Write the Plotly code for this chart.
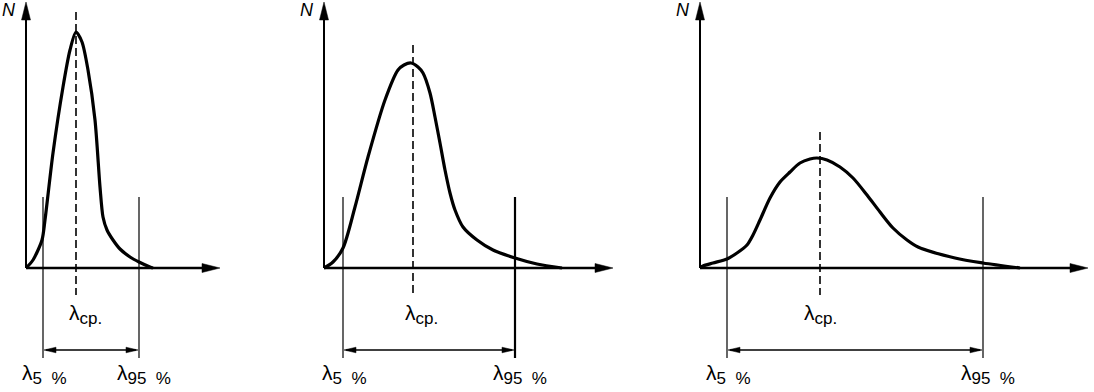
import plotly.graph_objects as go

# ---------------- data (arbitrary units, origin of each panel = 0,0) ----------------
p1_x = [0, 7, 16, 19, 27, 37, 44, 50, 56, 62, 69, 74, 77, 81, 87, 94, 104, 113, 124, 127]
p1_n = [0, 8, 28, 48, 115, 181, 218, 236, 226, 198, 148, 81, 51, 38, 28, 19, 11, 6, 1, 0]
p1_mean, p1_l5, p1_l95 = 50, 17, 113

p2_x = [0, 9, 19, 31, 44, 61, 74, 80, 87, 94, 99, 106, 111, 116, 121, 126, 131, 139, 153, 169, 191, 213, 238]
p2_n = [0, 6, 20, 61, 111, 168, 198, 203, 205, 201, 195, 175, 151, 125, 98, 75, 58, 41, 28, 18, 10, 4, 0]
p2_mean, p2_l5, p2_l95 = 89, 19, 191

p3_x = [0, 3, 13, 27, 37, 47, 53, 60, 70, 80, 90, 100, 110, 117, 127, 140, 153, 167, 180, 193,
        207, 218, 255, 283, 320]
p3_n = [0, 2, 5, 9, 15, 23, 33, 48, 70, 86, 96, 105, 109, 110, 108, 101, 90, 73, 56, 40,
        28, 21, 10, 5, 0]
p3_mean, p3_l5, p3_l95 = 120, 27, 283

axis_len_x = [194, 289, 388]
axis_len_y = 266
dash_top = [256, 223, 136]

y_label = "N"
mean_label = "λ<sub><span style='font-size:17px'>ср.</span></sub>"
l5_label = "λ<sub><span style='font-size:17px'>5\u00a0\u00a0%</span></sub>"
l95_label = "λ<sub><span style='font-size:17px'>95\u00a0\u00a0%</span></sub>"

# ---------------- layout / styling ----------------
W, H = 1094, 392
BASE_PX = 268
origins_px = [26, 324, 700]
mean_lab_off = [-9, -10, -18]
FONT = "Liberation Sans, Arial, sans-serif"
BLACK = "#000000"

panels = [
    (p1_x, p1_n, p1_mean, p1_l5, p1_l95),
    (p2_x, p2_n, p2_mean, p2_l5, p2_l95),
    (p3_x, p3_n, p3_mean, p3_l5, p3_l95),
]
l95_width = [1.2, 2.2, 1.2]
smooth = [0.75, 0.8, 0.8]

fig = go.Figure()
annotations = []

VL_TOP, VL_BOT = 71, -90     # extent of the λ5/λ95 lines
ARR_Y = -82                  # double arrow level
DASH_BOT = -27


def tri(tip_x, tip_y, dx, dy, length, half):
    # triangle pointing in direction (dx,dy)
    bx, by = tip_x - dx * length, tip_y - dy * length
    px, py = -dy, dx
    return ([tip_x, bx + px * half, bx - px * half, tip_x],
            [tip_y, by + py * half, by - py * half, tip_y])


for i, (xs, ns, mean, l5, l95) in enumerate(panels):
    xa = "x" if i == 0 else f"x{i + 1}"
    common = dict(xaxis=xa, yaxis="y", hoverinfo="skip", showlegend=False)
    lx = axis_len_x[i]

    # axes
    fig.add_trace(go.Scatter(x=[0, 0], y=[0, axis_len_y - 12], mode="lines",
                             line=dict(color=BLACK, width=2), **common))
    fig.add_trace(go.Scatter(x=[0, lx - 12], y=[0, 0], mode="lines",
                             line=dict(color=BLACK, width=2.4), **common))
    tx, ty = tri(0, axis_len_y, 0, 1, 18, 4.5)
    fig.add_trace(go.Scatter(x=tx, y=ty, mode="lines", fill="toself", fillcolor=BLACK,
                             line=dict(color=BLACK, width=0.5), **common))
    tx, ty = tri(lx, 0, 1, 0, 18, 4.5)
    fig.add_trace(go.Scatter(x=tx, y=ty, mode="lines", fill="toself", fillcolor=BLACK,
                             line=dict(color=BLACK, width=0.5), **common))

    # λ5 / λ95 lines
    fig.add_trace(go.Scatter(x=[l5, l5], y=[VL_TOP, VL_BOT], mode="lines",
                             line=dict(color=BLACK, width=1.2), **common))
    fig.add_trace(go.Scatter(x=[l95, l95], y=[VL_TOP, VL_BOT], mode="lines",
                             line=dict(color=BLACK, width=l95_width[i]), **common))

    # double arrow
    fig.add_trace(go.Scatter(x=[l5 + 3, l95 - 3], y=[ARR_Y, ARR_Y], mode="lines",
                             line=dict(color=BLACK, width=1.3), **common))
    for tip, d in ((l5 + 1, -1), (l95 - 1, 1)):
        tx, ty = tri(tip, ARR_Y, d, 0, 12, 2.8)
        fig.add_trace(go.Scatter(x=tx, y=ty, mode="lines", fill="toself", fillcolor=BLACK,
                                 line=dict(color=BLACK, width=0.5), **common))

    # dashed mean line
    fig.add_trace(go.Scatter(x=[mean, mean], y=[dash_top[i], DASH_BOT], mode="lines",
                             line=dict(color=BLACK, width=1.6, dash="8px,4px"), **common))

    # distribution curve
    fig.add_trace(go.Scatter(x=xs, y=ns, mode="lines",
                             line=dict(color=BLACK, width=3.2, shape="spline", smoothing=smooth[i]),
                             **common))

    # labels
    annotations.append(dict(x=-8, y=axis_len_y - 8, xref=xa, yref="y", text=y_label,
                            showarrow=False, xanchor="right", yanchor="middle",
                            font=dict(family=FONT, size=18, color=BLACK, style="italic")))
    annotations.append(dict(x=mean + mean_lab_off[i], y=-46, xref=xa, yref="y", text=mean_label,
                            showarrow=False, xanchor="left", yanchor="middle",
                            font=dict(family=FONT, size=21, color=BLACK)))
    annotations.append(dict(x=l5 - 23, y=-106, xref=xa, yref="y", text=l5_label,
                            showarrow=False, xanchor="left", yanchor="middle",
                            font=dict(family=FONT, size=21, color=BLACK)))
    annotations.append(dict(x=l95 - 24, y=-106, xref=xa, yref="y", text=l95_label,
                            showarrow=False, xanchor="left", yanchor="middle",
                            font=dict(family=FONT, size=21, color=BLACK)))

layout_axes = {}
for i, ox in enumerate(origins_px):
    key = "xaxis" if i == 0 else f"xaxis{i + 1}"
    ax = dict(range=[-ox, W - ox], domain=[0, 1], visible=False, fixedrange=True)
    if i > 0:
        ax["overlaying"] = "x"
    layout_axes[key] = ax

fig.update_layout(
    width=W, height=H,
    margin=dict(l=0, r=0, t=0, b=0),
    paper_bgcolor="white", plot_bgcolor="white",
    yaxis=dict(range=[-(H - BASE_PX), BASE_PX], domain=[0, 1], visible=False, fixedrange=True),
    annotations=annotations,
    showlegend=False,
    **layout_axes,
)

fig.write_html("out.html", config={"displayModeBar": False, "staticPlot": True},
               post_script="document.body.style.margin='0';document.body.style.overflow='hidden';")
